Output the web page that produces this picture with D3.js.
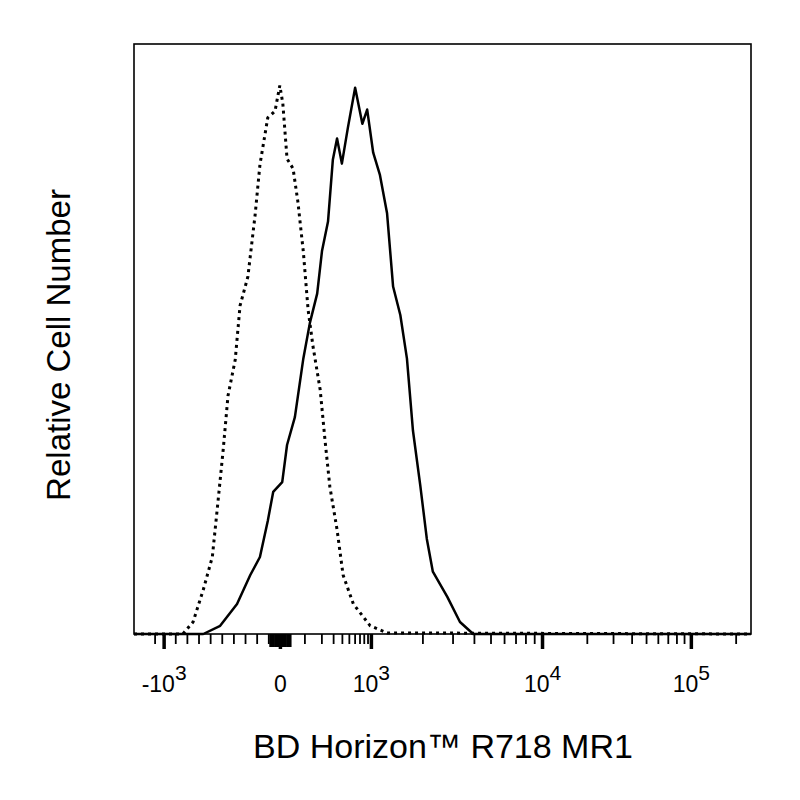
<!DOCTYPE html>
<html><head><meta charset="utf-8">
<script src="https://cdn.jsdelivr.net/npm/d3@7"></script>
<style>body{margin:0;background:#fff}</style></head>
<body><svg id="c" width="800" height="800"></svg>
<script>
// x in display channels (0-1024), y relative count (% of max)
const isoX = [0,81,98,115,130,139,148,156,168,176,189,201,209,222,234,242,247,254,264,272,281,289,297,309,317,325,337,347,364,392,420,1024];
const isoY = [0,0,2.2,8.1,14.1,23.8,33.7,43.6,50.2,60.1,65.4,76.7,85.9,94.5,95.7,100.4,97.1,87.0,85.2,79.1,70.0,59.3,52.7,44.7,35.5,27.0,19.1,10.8,5.5,1.5,0.2,0];
const mr1X = [0,115,143,171,193,209,222,231,246,254,267,281,292,304,312,322,330,337,345,355,367,379,387,397,408,420,430,442,453,463,475,486,496,520,541,563,1024];
const mr1Y = [0,0,1.5,5.5,10.8,14.1,20.7,26.0,27.8,34.6,39.7,50.4,57.0,62.3,70.1,75.5,86.8,90.7,86.1,92.7,100,93.4,96.0,88.1,84.1,77.0,63.6,58.4,50.4,37.2,27.3,17.4,11.4,6.8,2.2,0,0];
const majorCh = [50,243,394,678,925];
const majorBase = ["-10","0","10","10","10"];
const majorExp = ["3","","3","4","5"];
const xTitle = "BD Horizon™ R718 MR1";
const yTitle = "Relative Cell Number";

const L=134,R=751,T=44,B=634;
const svg=d3.select("#c");
const x=d3.scaleLinear().domain([0,1024]).range([L,R]);
const y=d3.scaleLinear().domain([0,108]).range([B,T]);

const minor=[];
for(let i=1;i<10;i++){ minor.push(majorCh[1]-(majorCh[1]-majorCh[0])*i/10); }
minor.push(majorCh[0]-15);
for(let i=1;i<10;i++){ const C=120; minor.push(majorCh[1]+(majorCh[2]-majorCh[1])*Math.asinh(i*100/C)/Math.asinh(1000/C)); }
for(let k=2;k<4;k++) for(let m=2;m<10;m++) minor.push(majorCh[k]+Math.log10(m)*(majorCh[k+1]-majorCh[k]));
minor.push(majorCh[4]+Math.log10(2)*(majorCh[4]-majorCh[3]));
const g=svg.append("g");
g.selectAll(".mn").data(minor).join("line").attr("x1",d=>x(d)).attr("x2",d=>x(d))
 .attr("y1",B).attr("y2",B+10).attr("stroke","#000").attr("stroke-width",1.8);
const zc=[-16,-12,-8,-4,0,4,8,12,16].map(d=>majorCh[1]+d);
g.selectAll(".zc").data(zc).join("line").attr("x1",d=>x(d)).attr("x2",d=>x(d))
 .attr("y1",B).attr("y2",B+13).attr("stroke","#000").attr("stroke-width",3);
g.selectAll(".mj").data(majorCh).join("line").attr("x1",d=>x(d)).attr("x2",d=>x(d))
 .attr("y1",B).attr("y2",B+15).attr("stroke","#000").attr("stroke-width",3.5);

const lbl=g.selectAll(".lb").data(majorCh).join("text").attr("x",d=>x(d)).attr("y",692)
 .attr("text-anchor","middle").attr("font-family","Liberation Sans, Arial").attr("font-size",23);
lbl.append("tspan").text((d,i)=>majorBase[i]);
lbl.append("tspan").attr("dy",-12).attr("font-size",21).text((d,i)=>majorExp[i]);

const line=d3.line().x(d=>x(d[0])).y(d=>y(d[1]));
svg.append("path").datum(isoX.map((v,i)=>[v,isoY[i]])).attr("d",line).attr("fill","none")
 .attr("stroke","#000").attr("stroke-width",3).attr("stroke-dasharray","3,4");
svg.append("path").datum(mr1X.map((v,i)=>[v,mr1Y[i]])).attr("d",line).attr("fill","none")
 .attr("stroke","#000").attr("stroke-width",2.5).attr("stroke-linejoin","round");

svg.append("rect").attr("x",L).attr("y",T).attr("width",R-L).attr("height",B-T)
 .attr("fill","none").attr("stroke","#000").attr("stroke-width",1.6);

svg.append("text").attr("x",443).attr("y",758).attr("text-anchor","middle")
 .attr("font-family","Liberation Sans, Arial").attr("font-size",34).text(xTitle);
svg.append("text").attr("transform","translate(70,345) rotate(-90)").attr("text-anchor","middle")
 .attr("font-family","Liberation Sans, Arial").attr("font-size",33).text(yTitle);
</script></body></html>
